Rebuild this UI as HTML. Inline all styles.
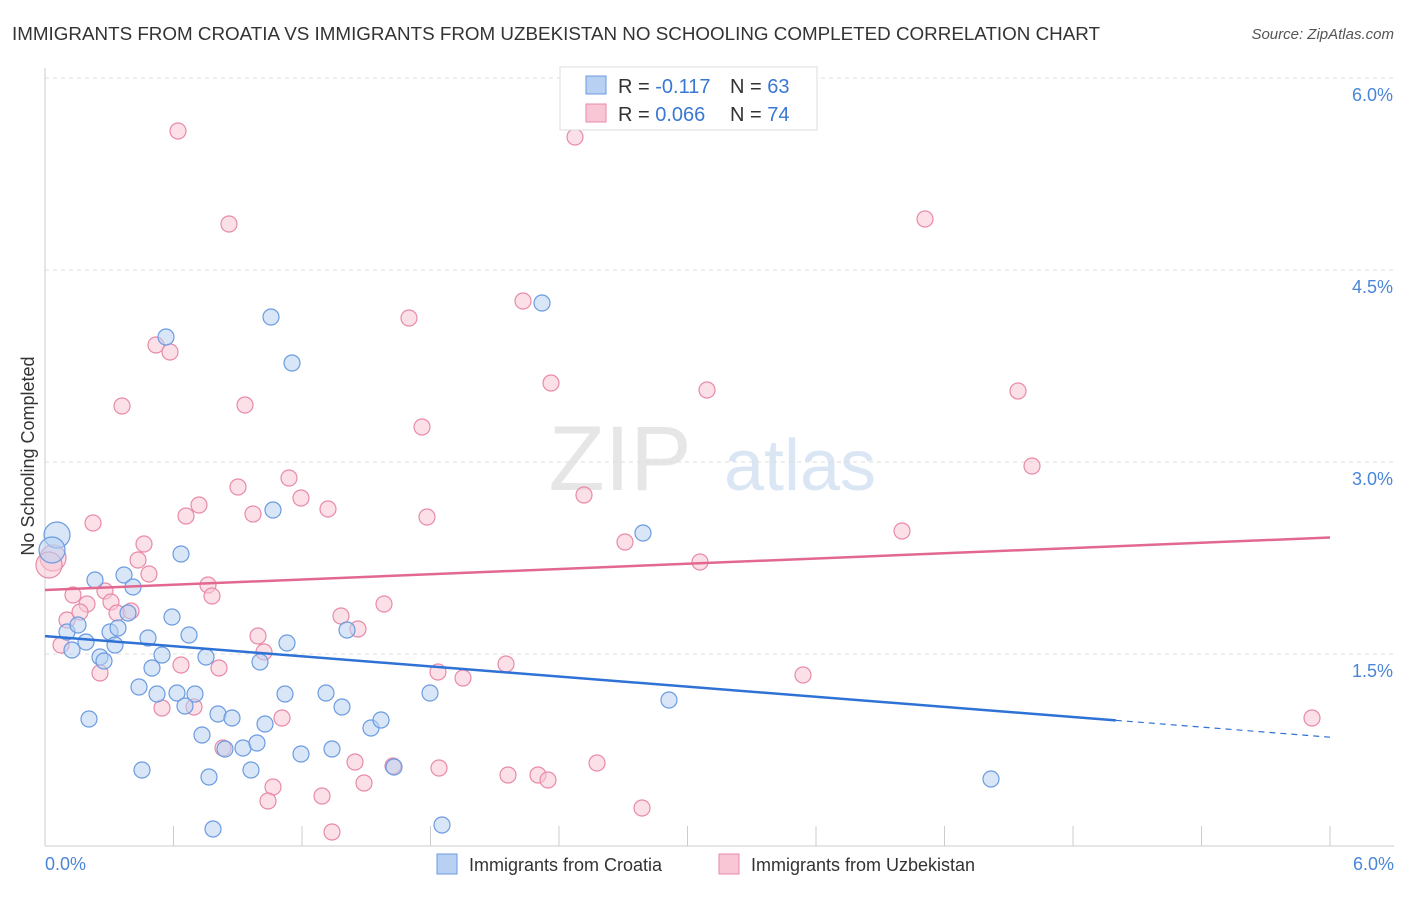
<!DOCTYPE html>
<html><head><meta charset="utf-8"><style>
body{margin:0;background:#fff;font-family:"Liberation Sans",sans-serif;}
svg text{font-family:"Liberation Sans",sans-serif;}
</style></head><body>
<svg id="chart" width="1406" height="892" viewBox="0 0 1406 892">
<text x="12" y="40" font-size="18" fill="#333" textLength="1088" lengthAdjust="spacingAndGlyphs">IMMIGRANTS FROM CROATIA VS IMMIGRANTS FROM UZBEKISTAN NO SCHOOLING COMPLETED CORRELATION CHART</text>
<text x="1394" y="39" font-size="15" fill="#555" font-style="italic" text-anchor="end">Source: ZipAtlas.com</text>
<text x="620" y="490" font-size="92" fill="#e6e6e6" font-family="Liberation Serif" text-anchor="middle">ZIP</text>
<text x="800" y="490" font-size="72" fill="#dbe6f5" text-anchor="middle">atlas</text>
<g id="grid"></g><g id="ticks"></g>
<line x1="45" y1="68" x2="45" y2="846" stroke="#ccc"/>
<line x1="45" y1="846" x2="1394" y2="846" stroke="#ccc"/>
<text transform="translate(34,456) rotate(-90)" font-size="18" fill="#333" text-anchor="middle">No Schooling Completed</text>
<text x="45" y="870" font-size="18" fill="#4a86d8">0.0%</text>
<text x="1394" y="870" font-size="18" fill="#4a86d8" text-anchor="end">6.0%</text>
<g id="pts"></g><g id="lines"></g>
<g>
<rect x="560" y="67" width="257" height="63" fill="#fff" stroke="#ddd"/>
<rect x="586" y="76" width="20" height="18" fill="#b8d1f3" stroke="#6b9be0"/>
<rect x="586" y="104" width="20" height="18" fill="#f8c6d5" stroke="#e88aa8"/>
<text x="618" y="93" font-size="20" fill="#333">R = <tspan fill="#3a78d4">-0.117</tspan><tspan x="730">N = </tspan><tspan fill="#3a78d4">63</tspan></text>
<text x="618" y="121" font-size="20" fill="#333">R = <tspan fill="#3a78d4">0.066</tspan><tspan x="730">N = </tspan><tspan fill="#3a78d4">74</tspan></text>
</g>
<g>
<rect x="437" y="854" width="20" height="20" fill="#b8d1f3" stroke="#6b9be0"/>
<text x="469" y="871" font-size="18" fill="#333">Immigrants from Croatia</text>
<rect x="719" y="854" width="20" height="20" fill="#f8c6d5" stroke="#e88aa8"/>
<text x="751" y="871" font-size="18" fill="#333">Immigrants from Uzbekistan</text>
</g>
</svg>
<script>
const yTicks=[1.5,3.0,4.5,6.0];
const xTickCount=10;
const blueTrend=[1.64,0.85];
const pinkTrend=[2.0,2.41];
const blueXpx=[57,52,95,124,133,67,78,86,72,100,104,110,118,115,128,148,172,189,162,152,206,139,157,177,195,185,218,232,202,225,243,257,265,260,287,285,326,342,301,332,371,381,394,347,430,142,209,251,213,442,166,181,271,292,273,542,643,669,991,89];
const blueYpx=[535,550,580,575,587,632,625,642,650,657,661,632,628,645,613,638,617,635,655,668,657,687,694,693,694,706,714,718,735,749,748,743,724,662,643,694,693,707,754,749,728,720,767,630,693,770,777,770,829,825,337,554,317,363,510,303,533,700,779,719];
const blueBig=[0,1];
const pinkXpx=[178,575,229,925,523,409,156,170,122,245,551,707,1018,422,1032,289,238,199,186,253,301,328,427,584,93,144,138,149,53,49,73,87,105,111,208,212,117,131,67,80,61,100,181,219,258,264,341,358,384,625,700,902,438,463,506,803,162,194,282,1312,223,273,268,322,355,364,393,439,508,538,548,597,642,332];
const pinkYpx=[131,137,224,219,301,318,345,352,406,405,383,390,391,427,466,478,487,505,516,514,498,509,517,495,523,544,560,574,558,565,595,604,591,602,585,596,613,611,620,612,645,673,665,668,636,652,616,629,604,542,562,531,672,678,664,675,708,707,718,718,748,787,801,796,762,783,766,768,775,775,780,763,808,832];
const pinkBig=[28,29];
const blueX=blueXpx.map(p=>(p-45)/214.17), blueY=blueYpx.map(p=>(846-p)/128);
const pinkX=pinkXpx.map(p=>(p-45)/214.17), pinkY=pinkYpx.map(p=>(846-p)/128);
const sx=v=>45+v*214.17, sy=v=>846-v*128;
const NS="http://www.w3.org/2000/svg";
function mk(t,a,parent){const e=document.createElementNS(NS,t);for(const k in a)e.setAttribute(k,a[k]);document.getElementById(parent).appendChild(e);return e;}
yTicks.forEach(v=>{
 const l=mk('line',{x1:45,x2:1394,y1:sy(v),y2:sy(v),stroke:'#ddd','stroke-dasharray':'4,4'},'grid');
 
 
 const t=mk('text',{x:1393,y:sy(v)+23,'font-size':18,fill:'#4a86d8','text-anchor':'end'},'grid');
 t.textContent=v.toFixed(1)+'%';
 
 
});
for(let i=1;i<=xTickCount;i++){
 const x=sx(i*0.6);
 const l=mk('line',{x1:x,x2:x,y1:826,y2:846,stroke:'#ccc'},'ticks');
 
 
}
function pts(X,Y,big,fill,stroke,name){
 X.forEach((x,i)=>{
  const b=big.includes(i);
  const c=mk('circle',{cx:sx(x),cy:sy(Y[i]),r:b?13:8,fill:fill,stroke:stroke,'stroke-width':1.2,'fill-opacity':0.55},'pts');
  
  
 });
}
pts(pinkX,pinkY,pinkBig,'#f8c6d5','#e88aa8','uzbekistan-point');
pts(blueX,blueY,blueBig,'#b8d1f3','#6b9be0','croatia-point');
const bx=5.0;
const by=blueTrend[0]+(blueTrend[1]-blueTrend[0])*bx/6;
let l=mk('line',{x1:sx(0),y1:sy(blueTrend[0]),x2:sx(bx),y2:sy(by),stroke:'#2f72d6','stroke-width':2.5},'lines');


l=mk('line',{x1:sx(bx),y1:sy(by),x2:sx(6),y2:sy(blueTrend[1]),stroke:'#2f72d6','stroke-width':1.2,'stroke-dasharray':'6,5'},'lines');


l=mk('line',{x1:sx(0),y1:sy(pinkTrend[0]),x2:sx(6),y2:sy(pinkTrend[1]),stroke:'#e2688f','stroke-width':2.5},'lines');


</script>
</body></html>
